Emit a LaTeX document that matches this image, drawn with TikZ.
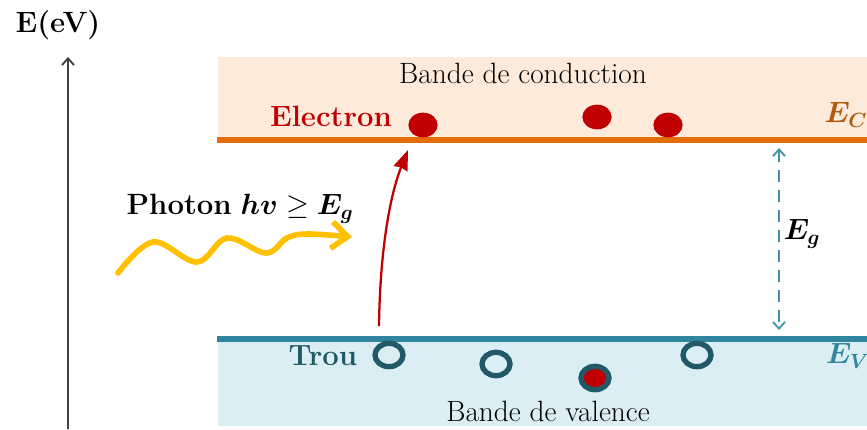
\RequirePackage{fix-cm}
\documentclass[tikz,border=0pt]{standalone}
\usepackage{bm}
\usetikzlibrary{arrows.meta,shapes.geometric}
\definecolor{condfill}{RGB}{253,234,218}
\definecolor{condline}{RGB}{228,108,10}
\definecolor{ecbrown}{RGB}{176,88,12}
\definecolor{valfill}{RGB}{218,238,243}
\definecolor{valline}{RGB}{49,133,156}
\definecolor{holeblue}{RGB}{33,89,104}
\definecolor{elecred}{RGB}{192,0,0}
\definecolor{photonyel}{RGB}{255,192,0}
\begin{document}
\begin{tikzpicture}[x=0.75pt, y=-0.75pt, >={Straight Barb[length=5pt,width=9pt]},
		font=\fontsize{22}{26}\selectfont,
		electron/.style={ellipse, fill=elecred, minimum width=22pt, minimum height=18.5pt, inner sep=0pt},
		hole/.style={ellipse, draw=holeblue, line width=4pt, minimum width=21pt, minimum height=17.5pt, inner sep=0pt},
		bandline/.style={line width=4pt}]
		\useasboundingbox (0,0) rectangle (867,429);
		
		% Energy axis
		\draw[->, line width=1.4pt, black!75] (68,429) -- (68,57);
		\node (axis) at (58,25) {\textbf{E(eV)}};
		
		% Conduction band
		\fill[condfill] (218,57) rectangle (867,140);
		\draw[bandline, condline] (217,140) -- (867,140);
		\node (cband) at (523,73) {Bande de conduction};
		\node[elecred] (elabel) at (331,116) {\textbf{Electron}};
		\node[ecbrown] (ec) at (846,115) {$\bm{E_C}$};
		
		% Valence band
		\fill[valfill] (218,339) rectangle (867,426);
		\draw[bandline, valline] (217,339) -- (867,339);
		\node (vband) at (548,411) {Bande de valence};
		\node[holeblue] (tlabel) at (323,356) {\textbf{Trou}};
		\node[valline] (ev) at (848,356) {$\bm{E_V}$};
		
		% Electrons and holes
		\node[electron] (e1) at (423,125) {};
		\node[electron] (e2) at (597,117) {};
		\node[electron] (e3) at (668,125) {};
		\node[hole] (h1) at (389,355) {};
		\node[hole] (h2) at (496,364) {};
		\node[hole, fill=elecred] (h3) at (595,378) {};
		\node[hole] (h4) at (697,355) {};
		
		% Gap
		\coordinate (gtop) at (779,148);
		\coordinate (gbot) at (779,330);
		\draw[<->, valline!90, line width=1.4pt, dash pattern=on 9pt off 6pt] (gtop) -- (gbot);
		\node (eg) at (802,234) {$\bm{E_g}$};
		
		% Excitation
		\coordinate (jstart) at (379,326);
		\coordinate (jend) at (408,150);
		\draw[-{Stealth[length=15pt,width=11pt,inset=1pt]}, elecred, line width=1.7pt] (jstart) .. controls (380,250) and (390,195) .. (jend);
		
		% Photon
		\coordinate (pstart) at (118,273);
		\coordinate (pend) at (352,237);
		\draw[-{Straight Barb[length=12pt,width=20pt]}, photonyel, line width=4.2pt, line cap=round] plot[smooth, tension=0.6] coordinates {(pstart) (153,242) (197,262) (227,238) (266,253) (287,238) (308,234) (pend)};
		\node (plabel) at (240,209) {\textbf{Photon} $\bm{hv}\geq\bm{E_g}$};
	\end{tikzpicture}
\end{document}
